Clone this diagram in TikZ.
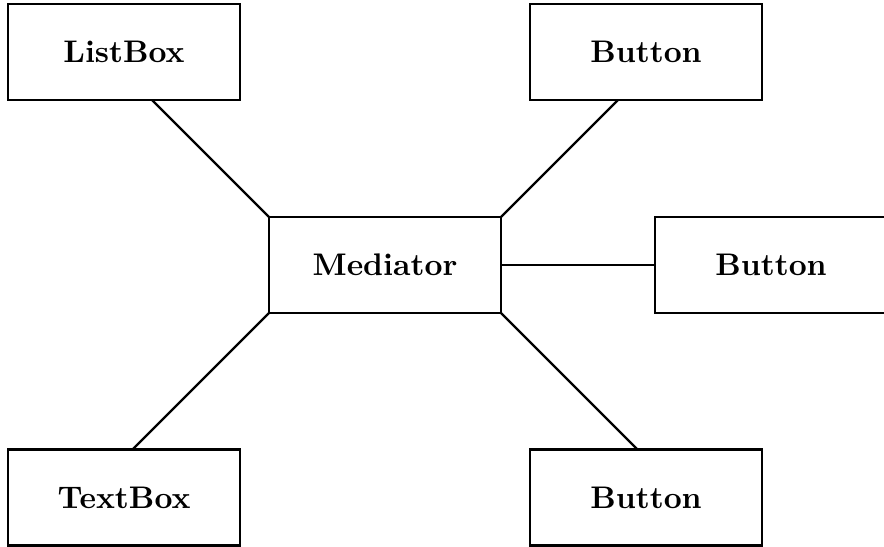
\documentclass[tikz,border=0pt]{standalone}
\usetikzlibrary{calc}

\tikzset{
  widget/.style={draw, line width=0.75pt, rectangle, inner sep=0pt, outer sep=0pt,
    minimum width=74.24pt, minimum height=30.72pt, font=\bfseries},
  link/.style={line width=0.75pt}
}

\begin{document}
\begin{tikzpicture}[x=0.32pt, y=-0.32pt]
  % page frame
  \fill[white] (0,0) rectangle (884,547);
  \useasboundingbox (0,0) rectangle (884,547);

  % widgets
  \node[widget] (med) at (385,265)   {Mediator};
  \node[widget] (lb)  at (124,52)    {ListBox};
  \node[widget] (b1)  at (646,52)    {Button};
  \node[widget] (b2)  at (771,265)   {Button};
  \node[widget] (tb)  at (124,497.5) {TextBox};
  \node[widget] (b3)  at (646,497.5) {Button};

  % diagonal links leave the mediator corners at 45 degrees
  \draw[link] let \p1=(med.north west), \p2=(lb.south) in
    (\p1) -- (\x1-\y2+\y1, \y2);
  \draw[link] let \p1=(med.north east), \p2=(b1.south) in
    (\p1) -- (\x1+\y2-\y1, \y2);
  \draw[link] let \p1=(med.south west), \p2=(tb.north) in
    (\p1) -- (\x1-\y1+\y2, \y2);
  \draw[link] let \p1=(med.south east), \p2=(b3.north) in
    (\p1) -- (\x1+\y1-\y2, \y2);
  % straight link to the right
  \draw[link] (med.east) -- (b2.west);
\end{tikzpicture}
\end{document}
